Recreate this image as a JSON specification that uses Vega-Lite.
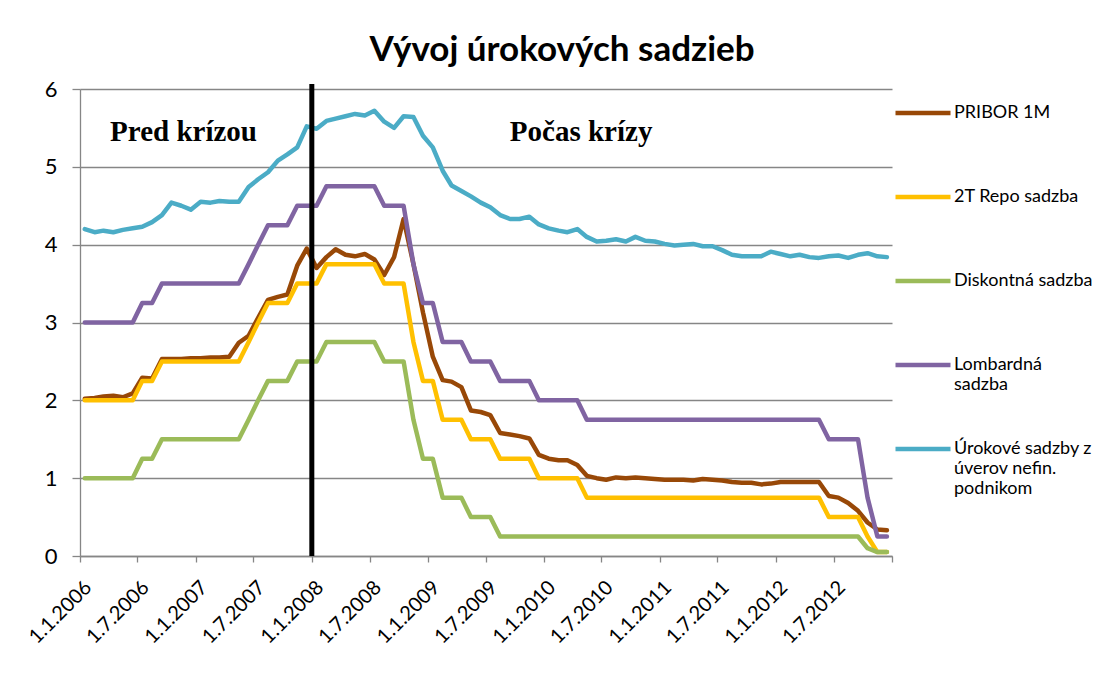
{
  "$schema": "https://vega.github.io/schema/vega-lite/v6.json",
  "width": 812,
  "height": 467,
  "autosize": {"type": "none"},
  "padding": {"left": 80, "top": 89, "right": 210, "bottom": 122},
  "background": "white",
  "title": {"text": "Vývoj úrokových sadzieb", "font": "Lato", "fontSize": 35, "fontWeight": "bold", "color": "black", "anchor": "middle", "dx": 76, "offset": 10},
  "config": {"view": {"stroke": null}, "font": "Lato"},
  "datasets": {
    "rates": [
      {"d": "2006-01-16", "pribor": 2.02, "repo": 2.0, "diskont": 1.0, "lombard": 3.0, "uver": 4.20},
      {"d": "2006-02-16", "pribor": 2.03, "repo": 2.0, "diskont": 1.0, "lombard": 3.0, "uver": 4.16},
      {"d": "2006-03-16", "pribor": 2.05, "repo": 2.0, "diskont": 1.0, "lombard": 3.0, "uver": 4.18},
      {"d": "2006-04-16", "pribor": 2.06, "repo": 2.0, "diskont": 1.0, "lombard": 3.0, "uver": 4.16},
      {"d": "2006-05-16", "pribor": 2.04, "repo": 2.0, "diskont": 1.0, "lombard": 3.0, "uver": 4.19},
      {"d": "2006-06-16", "pribor": 2.09, "repo": 2.0, "diskont": 1.0, "lombard": 3.0, "uver": 4.21},
      {"d": "2006-07-16", "pribor": 2.29, "repo": 2.25, "diskont": 1.25, "lombard": 3.25, "uver": 4.23},
      {"d": "2006-08-16", "pribor": 2.28, "repo": 2.25, "diskont": 1.25, "lombard": 3.25, "uver": 4.29},
      {"d": "2006-09-16", "pribor": 2.53, "repo": 2.5, "diskont": 1.5, "lombard": 3.5, "uver": 4.38},
      {"d": "2006-10-16", "pribor": 2.53, "repo": 2.5, "diskont": 1.5, "lombard": 3.5, "uver": 4.54},
      {"d": "2006-11-16", "pribor": 2.53, "repo": 2.5, "diskont": 1.5, "lombard": 3.5, "uver": 4.50},
      {"d": "2006-12-16", "pribor": 2.54, "repo": 2.5, "diskont": 1.5, "lombard": 3.5, "uver": 4.45},
      {"d": "2007-01-16", "pribor": 2.54, "repo": 2.5, "diskont": 1.5, "lombard": 3.5, "uver": 4.55},
      {"d": "2007-02-16", "pribor": 2.55, "repo": 2.5, "diskont": 1.5, "lombard": 3.5, "uver": 4.54},
      {"d": "2007-03-16", "pribor": 2.55, "repo": 2.5, "diskont": 1.5, "lombard": 3.5, "uver": 4.56},
      {"d": "2007-04-16", "pribor": 2.56, "repo": 2.5, "diskont": 1.5, "lombard": 3.5, "uver": 4.55},
      {"d": "2007-05-16", "pribor": 2.74, "repo": 2.5, "diskont": 1.5, "lombard": 3.5, "uver": 4.55},
      {"d": "2007-06-16", "pribor": 2.83, "repo": 2.75, "diskont": 1.75, "lombard": 3.75, "uver": 4.74},
      {"d": "2007-07-16", "pribor": 3.06, "repo": 3.0, "diskont": 2.0, "lombard": 4.0, "uver": 4.84},
      {"d": "2007-08-16", "pribor": 3.29, "repo": 3.25, "diskont": 2.25, "lombard": 4.25, "uver": 4.93},
      {"d": "2007-09-16", "pribor": 3.33, "repo": 3.25, "diskont": 2.25, "lombard": 4.25, "uver": 5.08},
      {"d": "2007-10-16", "pribor": 3.36, "repo": 3.25, "diskont": 2.25, "lombard": 4.25, "uver": 5.16},
      {"d": "2007-11-16", "pribor": 3.73, "repo": 3.5, "diskont": 2.5, "lombard": 4.5, "uver": 5.25},
      {"d": "2007-12-16", "pribor": 3.95, "repo": 3.5, "diskont": 2.5, "lombard": 4.5, "uver": 5.52},
      {"d": "2008-01-16", "pribor": 3.70, "repo": 3.5, "diskont": 2.5, "lombard": 4.5, "uver": 5.49},
      {"d": "2008-02-16", "pribor": 3.84, "repo": 3.75, "diskont": 2.75, "lombard": 4.75, "uver": 5.59},
      {"d": "2008-03-16", "pribor": 3.94, "repo": 3.75, "diskont": 2.75, "lombard": 4.75, "uver": 5.62},
      {"d": "2008-04-16", "pribor": 3.87, "repo": 3.75, "diskont": 2.75, "lombard": 4.75, "uver": 5.65},
      {"d": "2008-05-16", "pribor": 3.85, "repo": 3.75, "diskont": 2.75, "lombard": 4.75, "uver": 5.68},
      {"d": "2008-06-16", "pribor": 3.88, "repo": 3.75, "diskont": 2.75, "lombard": 4.75, "uver": 5.66},
      {"d": "2008-07-16", "pribor": 3.81, "repo": 3.75, "diskont": 2.75, "lombard": 4.75, "uver": 5.72},
      {"d": "2008-08-16", "pribor": 3.61, "repo": 3.5, "diskont": 2.5, "lombard": 4.5, "uver": 5.58},
      {"d": "2008-09-16", "pribor": 3.84, "repo": 3.5, "diskont": 2.5, "lombard": 4.5, "uver": 5.50},
      {"d": "2008-10-16", "pribor": 4.33, "repo": 3.5, "diskont": 2.5, "lombard": 4.5, "uver": 5.65},
      {"d": "2008-11-16", "pribor": 3.75, "repo": 2.75, "diskont": 1.75, "lombard": 3.75, "uver": 5.64},
      {"d": "2008-12-16", "pribor": 3.13, "repo": 2.25, "diskont": 1.25, "lombard": 3.25, "uver": 5.40},
      {"d": "2009-01-16", "pribor": 2.56, "repo": 2.25, "diskont": 1.25, "lombard": 3.25, "uver": 5.25},
      {"d": "2009-02-16", "pribor": 2.26, "repo": 1.75, "diskont": 0.75, "lombard": 2.75, "uver": 4.95},
      {"d": "2009-03-16", "pribor": 2.24, "repo": 1.75, "diskont": 0.75, "lombard": 2.75, "uver": 4.76},
      {"d": "2009-04-16", "pribor": 2.17, "repo": 1.75, "diskont": 0.75, "lombard": 2.75, "uver": 4.69},
      {"d": "2009-05-16", "pribor": 1.87, "repo": 1.5, "diskont": 0.5, "lombard": 2.5, "uver": 4.62},
      {"d": "2009-06-16", "pribor": 1.85, "repo": 1.5, "diskont": 0.5, "lombard": 2.5, "uver": 4.54},
      {"d": "2009-07-16", "pribor": 1.81, "repo": 1.5, "diskont": 0.5, "lombard": 2.5, "uver": 4.48},
      {"d": "2009-08-16", "pribor": 1.58, "repo": 1.25, "diskont": 0.25, "lombard": 2.25, "uver": 4.38},
      {"d": "2009-09-16", "pribor": 1.56, "repo": 1.25, "diskont": 0.25, "lombard": 2.25, "uver": 4.33},
      {"d": "2009-10-16", "pribor": 1.54, "repo": 1.25, "diskont": 0.25, "lombard": 2.25, "uver": 4.33},
      {"d": "2009-11-16", "pribor": 1.51, "repo": 1.25, "diskont": 0.25, "lombard": 2.25, "uver": 4.36},
      {"d": "2009-12-16", "pribor": 1.30, "repo": 1.0, "diskont": 0.25, "lombard": 2.0, "uver": 4.26},
      {"d": "2010-01-16", "pribor": 1.25, "repo": 1.0, "diskont": 0.25, "lombard": 2.0, "uver": 4.21},
      {"d": "2010-02-16", "pribor": 1.23, "repo": 1.0, "diskont": 0.25, "lombard": 2.0, "uver": 4.18},
      {"d": "2010-03-16", "pribor": 1.23, "repo": 1.0, "diskont": 0.25, "lombard": 2.0, "uver": 4.16},
      {"d": "2010-04-16", "pribor": 1.17, "repo": 1.0, "diskont": 0.25, "lombard": 2.0, "uver": 4.20},
      {"d": "2010-05-16", "pribor": 1.03, "repo": 0.75, "diskont": 0.25, "lombard": 1.75, "uver": 4.10},
      {"d": "2010-06-16", "pribor": 1.00, "repo": 0.75, "diskont": 0.25, "lombard": 1.75, "uver": 4.04},
      {"d": "2010-07-16", "pribor": 0.98, "repo": 0.75, "diskont": 0.25, "lombard": 1.75, "uver": 4.05},
      {"d": "2010-08-16", "pribor": 1.01, "repo": 0.75, "diskont": 0.25, "lombard": 1.75, "uver": 4.07},
      {"d": "2010-09-16", "pribor": 1.00, "repo": 0.75, "diskont": 0.25, "lombard": 1.75, "uver": 4.04},
      {"d": "2010-10-16", "pribor": 1.01, "repo": 0.75, "diskont": 0.25, "lombard": 1.75, "uver": 4.10},
      {"d": "2010-11-16", "pribor": 1.00, "repo": 0.75, "diskont": 0.25, "lombard": 1.75, "uver": 4.05},
      {"d": "2010-12-16", "pribor": 0.99, "repo": 0.75, "diskont": 0.25, "lombard": 1.75, "uver": 4.04},
      {"d": "2011-01-16", "pribor": 0.98, "repo": 0.75, "diskont": 0.25, "lombard": 1.75, "uver": 4.01},
      {"d": "2011-02-16", "pribor": 0.98, "repo": 0.75, "diskont": 0.25, "lombard": 1.75, "uver": 3.99},
      {"d": "2011-03-16", "pribor": 0.98, "repo": 0.75, "diskont": 0.25, "lombard": 1.75, "uver": 4.00},
      {"d": "2011-04-16", "pribor": 0.97, "repo": 0.75, "diskont": 0.25, "lombard": 1.75, "uver": 4.01},
      {"d": "2011-05-16", "pribor": 0.99, "repo": 0.75, "diskont": 0.25, "lombard": 1.75, "uver": 3.98},
      {"d": "2011-06-16", "pribor": 0.98, "repo": 0.75, "diskont": 0.25, "lombard": 1.75, "uver": 3.98},
      {"d": "2011-07-16", "pribor": 0.97, "repo": 0.75, "diskont": 0.25, "lombard": 1.75, "uver": 3.93},
      {"d": "2011-08-16", "pribor": 0.95, "repo": 0.75, "diskont": 0.25, "lombard": 1.75, "uver": 3.87},
      {"d": "2011-09-16", "pribor": 0.94, "repo": 0.75, "diskont": 0.25, "lombard": 1.75, "uver": 3.85},
      {"d": "2011-10-16", "pribor": 0.94, "repo": 0.75, "diskont": 0.25, "lombard": 1.75, "uver": 3.85},
      {"d": "2011-11-16", "pribor": 0.92, "repo": 0.75, "diskont": 0.25, "lombard": 1.75, "uver": 3.85},
      {"d": "2011-12-16", "pribor": 0.93, "repo": 0.75, "diskont": 0.25, "lombard": 1.75, "uver": 3.91},
      {"d": "2012-01-16", "pribor": 0.95, "repo": 0.75, "diskont": 0.25, "lombard": 1.75, "uver": 3.88},
      {"d": "2012-02-16", "pribor": 0.95, "repo": 0.75, "diskont": 0.25, "lombard": 1.75, "uver": 3.85},
      {"d": "2012-03-16", "pribor": 0.95, "repo": 0.75, "diskont": 0.25, "lombard": 1.75, "uver": 3.87},
      {"d": "2012-04-16", "pribor": 0.95, "repo": 0.75, "diskont": 0.25, "lombard": 1.75, "uver": 3.84},
      {"d": "2012-05-16", "pribor": 0.95, "repo": 0.75, "diskont": 0.25, "lombard": 1.75, "uver": 3.83},
      {"d": "2012-06-16", "pribor": 0.77, "repo": 0.5, "diskont": 0.25, "lombard": 1.5, "uver": 3.85},
      {"d": "2012-07-16", "pribor": 0.75, "repo": 0.5, "diskont": 0.25, "lombard": 1.5, "uver": 3.86},
      {"d": "2012-08-16", "pribor": 0.68, "repo": 0.5, "diskont": 0.25, "lombard": 1.5, "uver": 3.83},
      {"d": "2012-09-16", "pribor": 0.58, "repo": 0.5, "diskont": 0.25, "lombard": 1.5, "uver": 3.87},
      {"d": "2012-10-16", "pribor": 0.43, "repo": 0.25, "diskont": 0.1, "lombard": 0.75, "uver": 3.89},
      {"d": "2012-11-16", "pribor": 0.34, "repo": 0.05, "diskont": 0.05, "lombard": 0.25, "uver": 3.85},
      {"d": "2012-12-16", "pribor": 0.33, "repo": 0.05, "diskont": 0.05, "lombard": 0.25, "uver": 3.84}
    ]
  },
  "layer": [
    {
      "data": {"name": "rates"},
      "transform": [{"fold": ["pribor", "repo", "diskont", "lombard", "uver"], "as": ["s", "v"]}],
      "mark": {"type": "line", "strokeWidth": 4.5, "strokeJoin": "round", "strokeCap": "round"},
      "encoding": {
        "x": {
          "field": "d", "type": "temporal",
          "scale": {"type": "utc", "domain": [{"year": 2006, "month": 1, "date": 1, "utc": true}, {"year": 2013, "month": 1, "date": 1, "utc": true}]},
          "axis": {
            "title": null,
            "values": [
              {"year": 2006, "month": 1, "date": 1, "utc": true}, {"year": 2006, "month": 7, "date": 1, "utc": true},
              {"year": 2007, "month": 1, "date": 1, "utc": true}, {"year": 2007, "month": 7, "date": 1, "utc": true},
              {"year": 2008, "month": 1, "date": 1, "utc": true}, {"year": 2008, "month": 7, "date": 1, "utc": true},
              {"year": 2009, "month": 1, "date": 1, "utc": true}, {"year": 2009, "month": 7, "date": 1, "utc": true},
              {"year": 2010, "month": 1, "date": 1, "utc": true}, {"year": 2010, "month": 7, "date": 1, "utc": true},
              {"year": 2011, "month": 1, "date": 1, "utc": true}, {"year": 2011, "month": 7, "date": 1, "utc": true},
              {"year": 2012, "month": 1, "date": 1, "utc": true}, {"year": 2012, "month": 7, "date": 1, "utc": true},
              {"year": 2013, "month": 1, "date": 1, "utc": true}
            ],
            "format": "%-d.%-m.%Y",
            "labelExpr": "utcyear(datum.value) == 2013 ? '' : datum.label",
            "labelAngle": -45,
            "labelFontSize": 20,
            "labelFont": "Lato",
            "labelColor": "black",
            "labelPadding": 15,
            "labelOffset": 1,
            "tickSize": 6,
            "tickColor": "#868686",
            "tickWidth": 1.3,
            "domainColor": "#868686",
            "domainWidth": 1.3,
            "grid": false,
            "labelOverlap": false,
            "labelFlush": false
          }
        },
        "y": {
          "field": "v", "type": "quantitative",
          "scale": {"domain": [0, 6], "nice": false},
          "axis": {
            "title": null,
            "values": [0, 1, 2, 3, 4, 5, 6],
            "format": "d",
            "grid": true,
            "gridColor": "#868686",
            "gridWidth": 1.3,
            "domainColor": "#868686",
            "domainWidth": 1.3,
            "tickColor": "#868686",
            "tickWidth": 1.3,
            "tickSize": 8,
            "labelFontSize": 22,
            "labelFont": "Lato",
            "labelColor": "black",
            "labelPadding": 15
          }
        },
        "color": {
          "field": "s", "type": "nominal",
          "scale": {"domain": ["pribor", "repo", "diskont", "lombard", "uver"], "range": ["#984807", "#FFC000", "#9BBB59", "#8064A2", "#4BACC6"]},
          "legend": {
            "title": null,
            "orient": "none",
            "legendX": 813,
            "legendY": -6,
            "gridAlign": "all",
            "symbolType": "stroke",
            "symbolSize": 3025,
            "symbolStrokeWidth": 4.5,
            "labelFont": "Lato",
            "labelFontSize": 18,
            "labelColor": "black",
            "labelLimit": 0,
            "labelOffset": 1,
            "rowPadding": 5,
            "padding": 0,
            "labelExpr": "datum.label == 'pribor' ? 'PRIBOR 1M' : datum.label == 'repo' ? '2T Repo sadzba' : datum.label == 'diskont' ? 'Diskontná sadzba' : datum.label == 'lombard' ? ['Lombardná', 'sadzba'] : ['Úrokové sadzby z', 'úverov nefin.', 'podnikom']"
          }
        }
      }
    },
    {
      "data": {"values": [{"d": "2008-01-01"}]},
      "mark": {"type": "rule", "color": "black", "strokeWidth": 5},
      "encoding": {
        "x": {"field": "d", "type": "temporal"},
        "y": {"datum": 0},
        "y2": {"datum": 6.065}
      }
    },
    {
      "data": {"values": [{"d": "2006-11-23", "v": 5.33, "t": "Pred krízou"}, {"d": "2010-04-28", "v": 5.33, "t": "Počas krízy"}]},
      "mark": {"type": "text", "font": "Liberation Serif", "fontWeight": "bold", "fontSize": 29, "align": "center", "baseline": "alphabetic", "color": "black"},
      "encoding": {
        "x": {"field": "d", "type": "temporal"},
        "y": {"field": "v", "type": "quantitative"},
        "text": {"field": "t"}
      }
    }
  ]
}
